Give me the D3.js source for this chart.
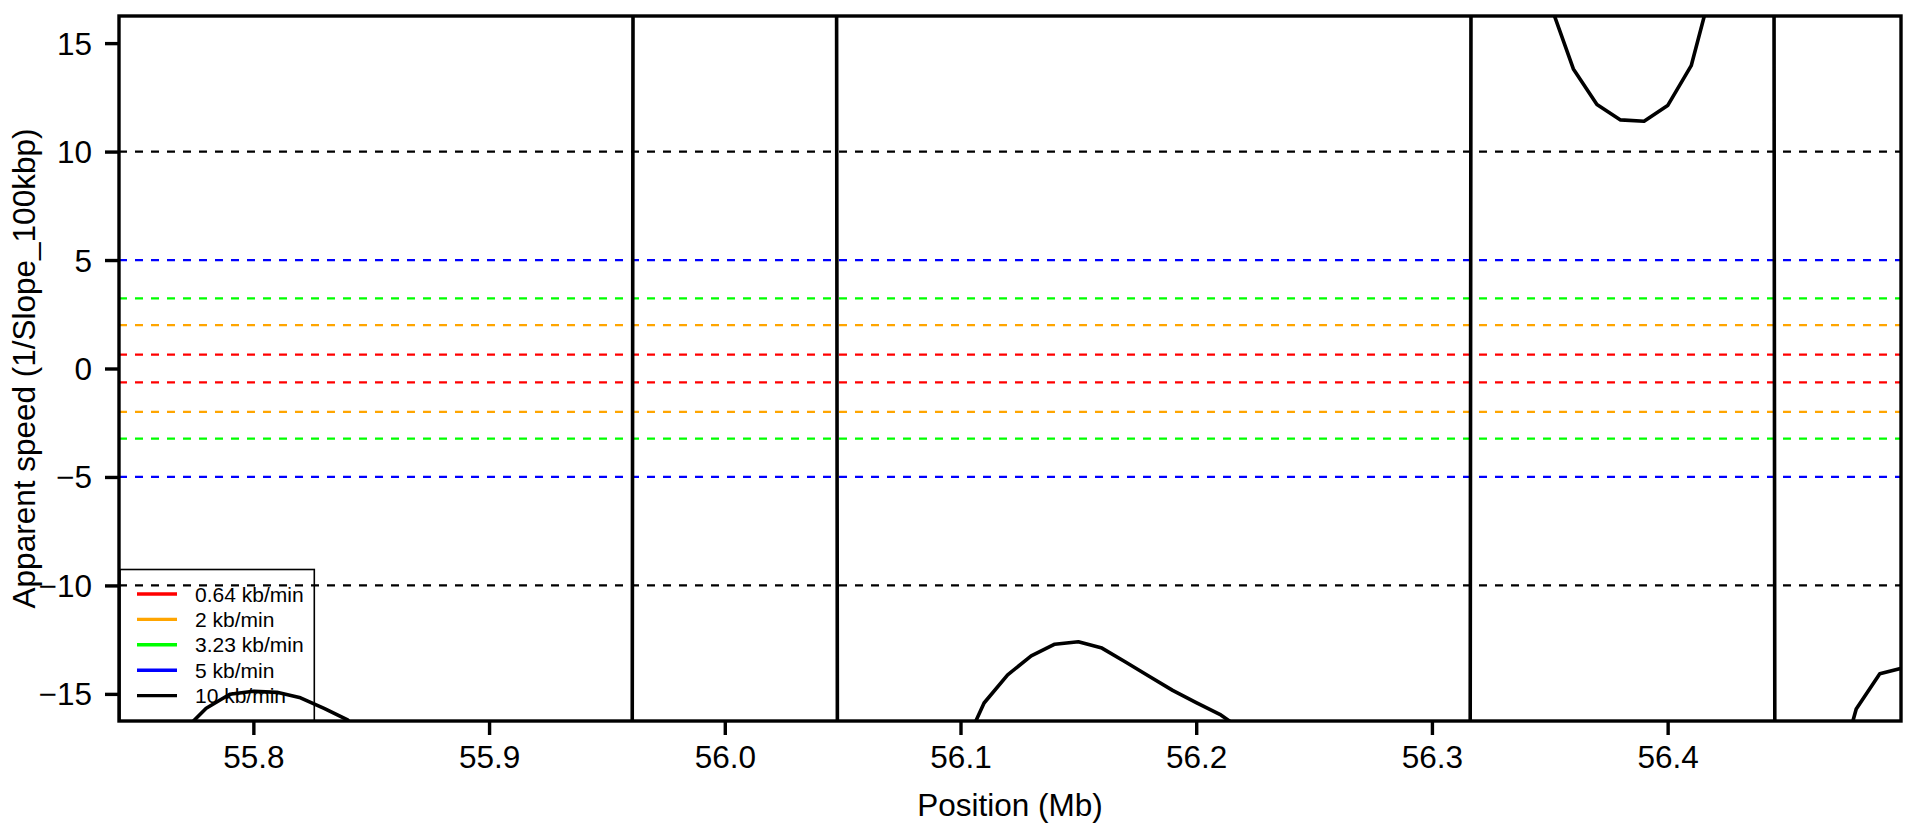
<!DOCTYPE html>
<html>
<head>
<meta charset="utf-8">
<script src="https://cdn.jsdelivr.net/npm/d3@7"></script>
<style>
  html, body { margin: 0; padding: 0; background: #ffffff; }
  svg { display: block; }
  text { font-family: "Liberation Sans", Arial, Helvetica, sans-serif; fill: #000; }
</style>
</head>
<body>
<svg id="chart" width="1914" height="826"></svg>
<script>
// ---- data ----
const positions = [55.74, 55.75, 55.76, 55.77, 55.78, 55.79, 55.80, 55.81, 55.82, 55.83,
  55.84, 55.85, 55.86, 55.87, 55.88, 55.89, 55.90, 55.91, 55.92, 55.93,
  55.94, 55.95, 55.96, 55.97, 55.98, 55.99, 56.00, 56.01, 56.02, 56.03,
  56.04, 56.05, 56.06, 56.07, 56.08, 56.09, 56.10, 56.11, 56.12, 56.13,
  56.14, 56.15, 56.16, 56.17, 56.18, 56.19, 56.20, 56.21, 56.22, 56.23,
  56.24, 56.25, 56.26, 56.27, 56.28, 56.29, 56.30, 56.31, 56.32, 56.33,
  56.34, 56.35, 56.36, 56.37, 56.38, 56.39, 56.40, 56.41, 56.42, 56.43,
  56.44, 56.45, 56.46, 56.47, 56.48, 56.49, 56.50];
const speeds = [-30, -24, -19.5, -16.75, -15.66, -15.02, -14.88, -14.93, -15.18, -15.67,
  -16.2, -17.6, -19.5, -22, -25, -29, -34, -40, -48, -58,
  -70, -80, -90, 910, 150, 70, 45, 38, 40, 90,
  760, -240, -60, -35, -25, -20, -17.8, -15.42, -14.12, -13.25,
  -12.71, -12.60, -12.89, -13.53, -14.19, -14.84, -15.40, -15.94, -16.70, -18,
  -20, -23, -27, -33, -42, -60, -110, -640, 360, 60,
  25, 16.86, 13.81, 12.17, 11.46, 11.40, 12.12, 13.96, 18.08, 28,
  530, -470, -40, -19.6, -15.70, -14.07, -13.8];

const refLabels = ["0.64 kb/min", "2 kb/min", "3.23 kb/min", "5 kb/min", "10 kb/min"];
const refValues = [0.64, 2, 3.23, 5, 10];
const refColors = ["#ff0000", "#ffa500", "#00ff00", "#0000ff", "#000000"];

const xTicks = [55.8, 55.9, 56.0, 56.1, 56.2, 56.3, 56.4];
const yTicks = [-15, -10, -5, 0, 5, 10, 15];
const xTitle = "Position (Mb)";
const yTitle = "Apparent speed (1/Slope_100kbp)";

// ---- layout ----
const L = 119, R = 1901, T = 16, B = 721;
const svg = d3.select("#chart");
const x = d3.scaleLinear().domain([55.743, 56.499]).range([L, R]);
const y = d3.scaleLinear().domain([-16.25, 16.25]).range([B, T]);

svg.append("defs").append("clipPath").attr("id", "plotclip")
  .append("rect").attr("x", L).attr("y", T).attr("width", R - L).attr("height", B - T);

const plot = svg.append("g").attr("clip-path", "url(#plotclip)");

// reference dashed lines (positive and negative)
const refs = [];
refValues.forEach((v, i) => { refs.push({v: v, c: refColors[i]}); refs.push({v: -v, c: refColors[i]}); });
plot.selectAll("line.ref").data(refs).enter().append("line")
  .attr("class", "ref")
  .attr("x1", L).attr("x2", R)
  .attr("y1", d => y(d.v)).attr("y2", d => y(d.v))
  .attr("stroke", d => d.c).attr("stroke-width", 2.2)
  .attr("stroke-dasharray", "8,8");

// data curve
const data = positions.map((p, i) => ({p: p, s: speeds[i]}));
const line = d3.line().x(d => x(d.p)).y(d => y(d.s));
plot.append("path").datum(data)
  .attr("d", line)
  .attr("fill", "none").attr("stroke", "#000").attr("stroke-width", 3.6)
  .attr("stroke-linejoin", "round");

// legend (bottom-left, transparent)
const lg = plot.append("g");
const rowY0 = 594, rowStep = 25.4;
lg.append("rect").attr("x", L + 1).attr("y", 569.5).attr("width", 314.3 - L - 1).attr("height", B - 569.5)
  .attr("fill", "none").attr("stroke", "#000").attr("stroke-width", 1.6);
refLabels.forEach((lab, i) => {
  const yy = rowY0 + i * rowStep;
  lg.append("line").attr("x1", 137).attr("x2", 177).attr("y1", yy).attr("y2", yy)
    .attr("stroke", refColors[i]).attr("stroke-width", 3.4);
  lg.append("text").attr("x", 195).attr("y", yy + 7.5)
    .attr("font-size", "21px").text(lab);
});

// frame
svg.append("rect").attr("x", L).attr("y", T).attr("width", R - L).attr("height", B - T)
  .attr("fill", "none").attr("stroke", "#000").attr("stroke-width", 3.4);

// x axis
const xAxis = d3.axisBottom(x).tickValues(xTicks).tickSize(14).tickSizeOuter(0)
  .tickFormat(d3.format(".1f")).tickPadding(10);
const gx = svg.append("g").attr("transform", `translate(0,${B})`).call(xAxis);
gx.select(".domain").remove();
gx.selectAll(".tick line").attr("stroke", "#000").attr("stroke-width", 3.4);
gx.selectAll(".tick text").attr("font-size", "31.5px")
  .attr("font-family", "'Liberation Sans', Arial, sans-serif").attr("dy", null).attr("y", 47);

// y axis
const yAxis = d3.axisLeft(y).tickValues(yTicks).tickSize(14).tickSizeOuter(0)
  .tickFormat(d => d < 0 ? "\u2212" + Math.abs(d) : String(d)).tickPadding(10);
const gy = svg.append("g").attr("transform", `translate(${L},0)`).call(yAxis);
gy.select(".domain").remove();
gy.selectAll(".tick line").attr("stroke", "#000").attr("stroke-width", 3.4);
gy.selectAll(".tick text").attr("font-size", "31.5px")
  .attr("font-family", "'Liberation Sans', Arial, sans-serif").attr("dy", null).attr("y", 11).attr("x", -27);

// titles
svg.append("text").attr("x", (L + R) / 2).attr("y", 816).attr("text-anchor", "middle")
  .attr("font-size", "31.5px").text(xTitle);
svg.append("text").attr("transform", `translate(35,${(T + B) / 2}) rotate(-90)`)
  .attr("text-anchor", "middle").attr("font-size", "31.5px").text(yTitle);
</script>
</body>
</html>
